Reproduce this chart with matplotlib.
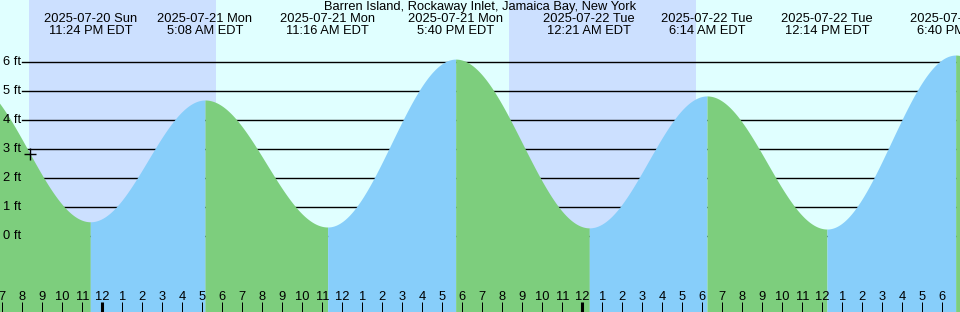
#!/usr/bin/env python3
"""
Tide chart: Barren Island, Rockaway Inlet, Jamaica Bay, New York.
Hours are counted from 2025-07-21 00:00 EDT.
"""

import matplotlib
matplotlib.use("Agg")
import matplotlib.pyplot as plt
import matplotlib.transforms as mtransforms
import numpy as np
import pandas as pd

plt.rcParams["font.family"] = ["Liberation Sans", "DejaVu Sans"]

TITLE = "Barren Island, Rockaway Inlet, Jamaica Bay, New York"

# tide extremes shown on the chart (EDT) and heights (ft)
EVENT_TIMES = [
    "2025-07-20 23:24", "2025-07-21 05:08", "2025-07-21 11:16", "2025-07-21 17:40",
    "2025-07-22 00:21", "2025-07-22 06:14", "2025-07-22 12:14", "2025-07-22 18:40",
]
EVENT_HEIGHTS = [0.49, 4.69, 0.31, 6.10, 0.28, 4.83, 0.24, 6.24]

# estimated extremes just outside the visible window (keep the curve going to the edges)
EDGE_TIMES = ["2025-07-20 17:12", "2025-07-23 00:55"]
EDGE_HEIGHTS = [5.40, 0.30]

# night (sunset -> sunrise), background shading
NIGHTS = [("2025-07-20 20:21", "2025-07-21 05:42"), ("2025-07-21 20:21", "2025-07-22 05:42")]

NOW_TIME = "2025-07-20 20:24"

FT_LEVELS = [0, 1, 2, 3, 4, 5, 6]

ORIGIN = pd.Timestamp("2025-07-21 00:00")
X_LEFT, X_RIGHT = -5.115, 42.885
Y_BOTTOM, Y_TOP = -2.621, 8.138

DAY_BG = "#e0ffff"
NIGHT_BG = "#cce0ff"
RISE_COLOR = "#87cefa"
FALL_COLOR = "#7dce7d"
FONT_SIZE = 9.3


def hours(ts):
    return (pd.Timestamp(ts) - ORIGIN).total_seconds() / 3600.0


def tide_segments():
    times = [hours(EDGE_TIMES[0])] + [hours(t) for t in EVENT_TIMES] + [hours(EDGE_TIMES[1])]
    levels = [EDGE_HEIGHTS[0]] + EVENT_HEIGHTS + [EDGE_HEIGHTS[1]]
    segs = []
    for (t0, h0), (t1, h1) in zip(zip(times[:-1], levels[:-1]), zip(times[1:], levels[1:])):
        u = np.linspace(0, 1, 200)
        t = t0 + (t1 - t0) * u
        h = h0 + (h1 - h0) * (1 - np.cos(np.pi * u)) / 2
        segs.append((t, h, h1 > h0))
    return segs


def main():
    fig = plt.figure(figsize=(9.6, 3.12), dpi=100)
    ax = fig.add_axes([0, 0, 1, 1])
    ax.set_xlim(X_LEFT, X_RIGHT)
    ax.set_ylim(Y_BOTTOM, Y_TOP)
    ax.axis("off")
    fig.patch.set_facecolor(DAY_BG)

    for start, end in NIGHTS:
        ax.axvspan(hours(start), hours(end), color=NIGHT_BG, lw=0, zorder=1)

    # depth lines and labels
    px = (X_RIGHT - X_LEFT) / 960.0
    for lvl in FT_LEVELS:
        ax.plot([X_LEFT + 22 * px, X_RIGHT], [lvl, lvl], color="black", lw=1, zorder=2)
        ax.text(X_LEFT + 3 * px, lvl, f"{lvl} ft", ha="left", va="center",
                fontsize=FONT_SIZE, zorder=5)

    segs = tide_segments()
    for t, h, rising in segs:
        ax.fill_between(t, Y_BOTTOM, h, color=RISE_COLOR if rising else FALL_COLOR,
                        lw=0, zorder=3)

    # current time mark
    now = hours(NOW_TIME)
    for t, h, _ in segs:
        if t[0] <= now <= t[-1]:
            ax.plot(now, np.interp(now, t, h), marker="+", ms=9, mew=1, color="black", zorder=6)

    # event labels
    trans = mtransforms.blended_transform_factory(ax.transData, fig.transFigure)
    for ts in EVENT_TIMES:
        d = pd.Timestamp(ts)
        x = hours(ts)
        line1 = f"{d:%Y-%m-%d} {d:%a}"
        line2 = f"{d.hour % 12 or 12}:{d:%M} {'AM' if d.hour < 12 else 'PM'} EDT"
        ax.text(x, 1 - 19 / 312, line1, transform=trans, ha="center", va="center",
                fontsize=FONT_SIZE, zorder=7)
        ax.text(x, 1 - 31 / 312, line2, transform=trans, ha="center", va="center",
                fontsize=FONT_SIZE, zorder=7)

    fig.text(0.5, 1 - 7 / 312, TITLE, ha="center", va="center", fontsize=FONT_SIZE, zorder=7)

    # hour ticks along the bottom
    for hr in range(int(np.ceil(X_LEFT)), int(np.floor(X_RIGHT)) + 1):
        label = str(hr % 12 or 12)
        ax.text(hr, 15 / 312, label, transform=trans, ha="center", va="center",
                fontsize=FONT_SIZE, zorder=7)
        width = 2.2 if hr % 24 == 0 else 0.72
        ax.plot([hr, hr], [0, 10 / 312], transform=trans, color="black", lw=width,
                solid_capstyle="butt", zorder=7)

    fig.savefig("out.png", dpi=100, facecolor=DAY_BG)


if __name__ == "__main__":
    main()
